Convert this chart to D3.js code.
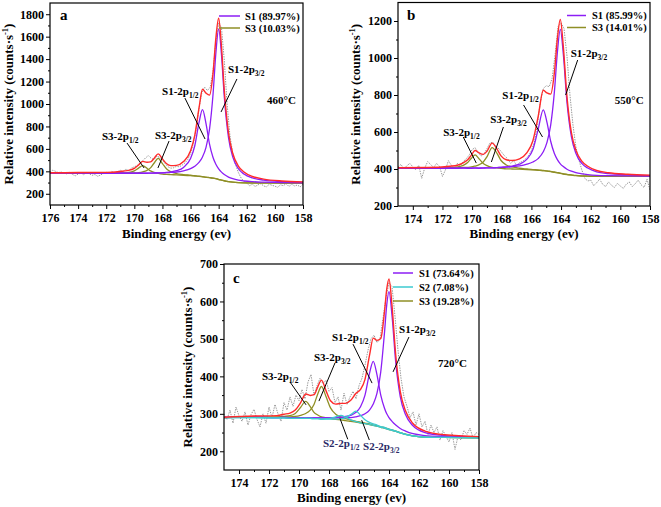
<!DOCTYPE html>
<html>
<head>
<meta charset="utf-8">
<script src="https://cdn.jsdelivr.net/npm/d3@7"></script>
<style>
html,body{margin:0;padding:0;background:#fff;}
svg{display:block;}
text{font-family:"Liberation Serif","Times New Roman",Times,serif;font-weight:bold;fill:#000;}
</style>
</head>
<body>
<svg id="chart" width="661" height="507"></svg>
<script>
// ================= DATA =================
// tick labels
const xTicksA = [176,174,172,170,168,166,164,162,160,158];
const xTicksBC = [174,172,170,168,166,164,162,160,158];
const yTicksA = [200,400,600,800,1000,1200,1400,1600,1800];
const yTicksB = [200,400,600,800,1000,1200];
const yTicksC = [200,300,400,500,600,700];

// legends
const legendA = ["S1 (89.97%)","S3 (10.03%)"];
const legendB = ["S1 (85.99%)","S3 (14.01%)"];
const legendC = ["S1 (73.64%)","S2 (7.08%)","S3 (19.28%)"];
const tempA = "460°C", tempB = "550°C", tempC = "720°C";

// ---- panel a (460 °C) : fitted components, heights above background ----
const gridA = [176,174,172,171,170.5,170,169.7,169.4,169.1,168.85,168.6,168.3,168.0,167.7,167.4,167.0,166.5,166.0,165.7,165.4,165.15,164.9,164.65,164.4,164.2,164.0,163.8,163.6,163.3,163.0,162.6,162.2,161.6,160.8,159.5,158];
const bgA    = [383,382,380,379,378,377,376,375,374,373,372,371,369,368,367,365,363,360,357,354,350,346,342,338,333,327,321,315,308,303,299,297,296,296,295,295];
const s1p32A = [2,3,4,6,6,7,8,9,10,11,13,15,17,20,23,29,42,64,88,125,178,268,434,749,1119,1340,1119,749,392,226,125,79,45,26,13,7];
const s1p12A = [1,2,3,4,5,6,7,8,9,11,12,15,18,22,28,41,72,154,271,480,600,480,300,185,130,95,72,57,41,31,22,17,12,8,5,3];
const s3p32A = [1,1,2,4,6,9,13,21,35,58,100,144,100,52,29,15,8,5,4,3,3,2,2,2,2,2,1,1,1,1,1,1,1,1,1,1];
const s3p12A = [0,1,2,6,11,27,53,76,53,31,18,11,7,5,4,3,2,1,1,1,1,1,1,1,1,0,0,0,0,0,0,0,0,0,0,0];
// raw counts, 176 -> 158 eV every 0.2 eV
const rawA = [395,410,400,388,395,382,378,392,372,360,375,385,370,390,378,365,372,355,368,380,392,378,400,386,395,410,
  398,420,405,430,440,452,470,495,520,540,515,505,535,525,500,468,440,428,432,445,440,455,475,505,560,
  650,780,960,1100,1150,1120,1150,1290,1560,1720,1680,1390,1000,720,560,460,390,340,310,295,272,285,265,280,290,
  270,262,285,275,268,258,280,272,290,265,285,270,278,262,285];

// ---- panel b (550 °C) ----
const gridB = [175,173,171.5,171,170.6,170.3,170.05,169.8,169.55,169.25,169.0,168.65,168.35,168.05,167.7,167.3,166.8,166.3,165.9,165.55,165.2,164.95,164.7,164.45,164.25,164.05,163.85,163.6,163.3,163.0,162.6,162.2,161.6,160.8,159.5,158];
const bgB    = [403,403,402,402,402,401,401,401,400,400,400,399,399,399,398,398,397,396,394,392,390,388,385,382,379,376,373,370,367,364,362,361,360,360,360,360];
const s1p32B = [1,2,3,3,4,4,4,5,5,6,6,7,8,10,12,15,20,30,44,64,103,156,252,435,650,779,650,390,206,121,68,44,25,15,8,4];
const s1p12B = [1,1,2,2,3,3,3,4,4,5,6,7,8,10,13,18,29,57,111,221,330,264,165,102,72,52,40,29,21,16,12,9,6,4,3,2];
const s3p32B = [1,1,3,4,6,8,10,15,22,38,66,117,90,47,24,13,7,4,3,3,2,2,2,2,2,2,1,1,1,1,1,1,1,1,1,1];
const s3p12B = [1,1,5,9,18,34,57,75,57,30,18,10,7,5,3,2,2,1,1,1,1,1,1,0,0,0,0,0,0,0,0,0,0,0,0,0];
// raw counts, 175 -> 158 eV every 0.2 eV
const rawB = [410,425,400,418,430,412,395,420,350,405,440,425,408,430,415,360,395,445,420,405,430,
  418,440,455,475,505,515,490,470,480,510,540,545,520,510,490,470,455,430,445,420,435,440,455,470,500,
  545,640,760,835,850,845,890,1020,1170,1190,1160,1010,800,640,520,450,395,350,335,340,310,325,345,318,305,
  330,312,300,322,308,295,318,330,305,320,340,315,300,345,285];

// ---- panel c (720 °C) ----
const gridC = [175,173,171.5,171,170.6,170.25,169.9,169.55,169.25,169.0,168.75,168.5,168.2,167.9,167.55,167.2,166.9,166.55,166.2,165.9,165.6,165.3,165.05,164.8,164.55,164.3,164.15,164.0,163.8,163.55,163.25,162.9,162.4,161.6,160.3,158];
const bgC    = [290,290,289,289,288,288,288,287,287,286,286,285,285,284,283,282,281,279,277,275,273,271,269,267,264,262,260,258,256,253,249,245,241,238,237,236];
const s1p32C = [1,1,1,2,2,2,2,2,3,3,3,4,4,5,6,7,9,11,15,20,27,39,57,88,148,255,331,368,307,184,97,53,27,12,5,2];
const s1p12C = [0,1,1,1,1,2,2,2,2,3,3,4,4,5,7,9,12,17,27,44,77,137,171,137,86,53,40,32,24,17,12,9,6,4,2,1];
const s2p32C = [0,0,0,0,0,0,0,1,1,1,1,1,1,2,3,5,9,19,30,21,11,6,4,3,2,2,1,1,1,1,1,0,0,0,0,0];
const s2p12C = [0,0,0,0,0,0,0,1,1,1,1,1,2,4,9,14,10,5,2,1,1,1,0,0,0,0,0,0,0,0,0,0,0,0,0,0];
const s3p32C = [0,1,2,3,4,5,8,14,23,39,67,88,61,32,16,9,6,4,3,3,2,2,1,1,1,1,1,1,1,1,1,1,0,0,0,0];
const s3p12C = [0,1,2,4,7,13,29,46,32,18,11,7,5,3,2,2,1,1,1,1,1,0,0,0,0,0,0,0,0,0,0,0,0,0,0,0];
// raw counts, 175 -> 158 eV every 0.2 eV
const rawC = [300,285,310,275,318,295,280,305,270,298,312,285,265,300,275,318,290,325,300,280,330,
  310,345,320,350,335,365,340,385,405,350,375,395,380,390,360,370,330,345,310,355,325,345,360,340,375,
  395,430,470,500,510,490,500,555,610,650,640,560,470,395,345,320,290,305,270,300,265,280,245,270,250,
  265,230,255,240,225,250,205,240,230,255,245,262,235,250,245];

// ================= DRAWING =================
const COL = {S1:"#8c1ef5", S2:"#3ccad0", S3:"#8f8f26", env:"#ff2b2b", raw:"#8a8a8a"};
const svg = d3.select("#chart");
const defs = svg.append("defs");

const panels = [
  { id:"a", left:50, right:303, top:3, bottom:205, xDomain:[176,158], yDomain:[100,1900],
    xTicks:xTicksA, xMinor:d3.range(175,158,-2), yTicks:yTicksA, yMinor:d3.range(300,1900,200),
    grid:gridA, bg:bgA,
    comps:[{k:"S3",v:s3p12A},{k:"S3",v:s3p32A},{k:"S1",v:s1p12A},{k:"S1",v:s1p32A}],
    raw:rawA, rawStart:176, rawStep:0.2,
    legend:legendA, legendKeys:["S1","S3"], legDy:12, legTop:13, legX:[-84,-63,-58],
    letter:"a", letterPos:[10,17], temp:tempA, tempPos:[160.56,1000],
    yTitleX:12.5, xTitleY:238,
    ann:[
      {m:"S1-2p",s:"3/2",t:[163.34,1275],l:[162.70,1223,163.83,929]},
      {m:"S1-2p",s:"1/2",t:[168.03,1080],l:[166.40,1053,164.97,688]},
      {m:"S3-2p",s:"1/2",t:[172.30,680],l:[170.52,652,169.31,430]},
      {m:"S3-2p",s:"3/2",t:[168.53,690],l:[167.53,670,168.32,430]}
    ]},
  { id:"b", left:398, right:650, top:2.5, bottom:206, xDomain:[175,158], yDomain:[200,1300],
    xTicks:xTicksBC, xMinor:d3.range(173,158,-2), yTicks:yTicksB, yMinor:d3.range(300,1300,200),
    grid:gridB, bg:bgB,
    comps:[{k:"S3",v:s3p12B},{k:"S3",v:s3p32B},{k:"S1",v:s1p12B},{k:"S1",v:s1p32B}],
    raw:rawB, rawStart:175, rawStep:0.2,
    legend:legendB, legendKeys:["S1","S3"], legDy:12, legTop:13, legX:[-83,-64,-58],
    letter:"b", letterPos:[9,17], temp:tempB, tempPos:[160.37,752],
    yTitleX:360, xTitleY:238,
    ann:[
      {m:"S1-2p",s:"3/2",t:[163.35,1005],l:[162.88,989,163.69,800]},
      {m:"S1-2p",s:"1/2",t:[167.96,778],l:[166.53,746,165.25,573]},
      {m:"S3-2p",s:"1/2",t:[171.95,578],l:[170.60,573,169.72,432]},
      {m:"S3-2p",s:"3/2",t:[168.77,649],l:[167.89,627,168.70,438]}
    ]},
  { id:"c", left:224, right:479, top:264, bottom:470, xDomain:[175,158], yDomain:[150,700],
    xTicks:xTicksBC, xMinor:d3.range(173,158,-2), yTicks:yTicksC, yMinor:d3.range(250,700,100),
    grid:gridC, bg:bgC,
    comps:[{k:"S3",v:s3p12C},{k:"S3",v:s3p32C},{k:"S1",v:s1p12C},{k:"S1",v:s1p32C},{k:"S2",v:s2p12C},{k:"S2",v:s2p32C}],
    raw:rawC, rawStart:175, rawStep:0.2,
    legend:legendC, legendKeys:["S1","S2","S3"], legDy:14, legTop:9, legX:[-86,-66,-60],
    letter:"c", letterPos:[9,19], temp:tempC, tempPos:[160.73,425],
    yTitleX:191.5, xTitleY:502,
    ann:[
      {m:"S1-2p",s:"3/2",t:[163.33,516],l:[162.67,505,163.73,412]},
      {m:"S1-2p",s:"1/2",t:[167.80,494],l:[166.40,486,165.13,382]},
      {m:"S3-2p",s:"3/2",t:[169.00,441],l:[167.60,436,168.67,334]},
      {m:"S3-2p",s:"1/2",t:[172.47,390],l:[170.60,385,169.53,324]},
      {m:"S2-2p",s:"1/2",t:[168.40,211],l:[167.27,288,166.75,232],c:"#2a2a66"},
      {m:"S2-2p",s:"3/2",t:[165.73,203],l:[165.82,283,165.31,230],c:"#2a2a66"}
    ]}
];

function styleAxis(sel){
  sel.select(".domain").remove();
  sel.attr("font-family",'"Liberation Serif","Times New Roman",serif').attr("font-size",12).attr("font-weight","bold");
  sel.selectAll(".tick line").attr("stroke","#000").attr("stroke-width",1);
  sel.selectAll(".tick text").attr("fill","#000");
}

panels.forEach(p=>{
  const x = d3.scaleLinear().domain(p.xDomain).range([p.left,p.right]);
  const y = d3.scaleLinear().domain(p.yDomain).range([p.bottom,p.top]);
  const g = svg.append("g");
  defs.append("clipPath").attr("id","clip-"+p.id).append("rect")
    .attr("x",p.left).attr("y",p.top).attr("width",p.right-p.left).attr("height",p.bottom-p.top);
  const plot = g.append("g").attr("clip-path",`url(#clip-${p.id})`);

  const smooth = d3.line().x(d=>x(d[0])).y(d=>y(d[1])).curve(d3.curveMonotoneX);
  const straight = d3.line().x(d=>x(d[0])).y(d=>y(d[1]));

  // raw data (dotted)
  const rawPts = p.raw.map((v,i)=>[p.rawStart - p.rawStep*i, v]);
  plot.append("path").attr("d",straight(rawPts)).attr("fill","none")
    .attr("stroke",COL.raw).attr("stroke-width",0.9).attr("stroke-dasharray","1.4,1.1");

  // fitted components (drawn on the background)
  p.comps.forEach(c=>{
    const pts = p.grid.map((e,i)=>[e, p.bg[i]+c.v[i]]);
    plot.append("path").attr("d",smooth(pts)).attr("fill","none")
      .attr("stroke",COL[c.k]).attr("stroke-width",1.3);
  });
  // envelope = background + all components
  const env = p.grid.map((e,i)=>[e, p.bg[i]+d3.sum(p.comps,c=>c.v[i])]);
  plot.append("path").attr("d",smooth(env)).attr("fill","none")
    .attr("stroke",COL.env).attr("stroke-width",1.4);

  // frame
  g.append("rect").attr("x",p.left).attr("y",p.top).attr("width",p.right-p.left).attr("height",p.bottom-p.top)
    .attr("fill","none").attr("stroke","#000").attr("stroke-width",1.2);

  // axes
  const xa = g.append("g").attr("transform",`translate(0,${p.bottom})`)
    .call(d3.axisBottom(x).tickValues(p.xTicks).tickSize(4).tickPadding(4).tickFormat(d3.format("d")));
  styleAxis(xa);
  const xm = g.append("g").attr("transform",`translate(0,${p.bottom})`)
    .call(d3.axisBottom(x).tickValues(p.xMinor).tickSize(2).tickFormat(""));
  styleAxis(xm);
  const ya = g.append("g").attr("transform",`translate(${p.left},0)`)
    .call(d3.axisLeft(y).tickValues(p.yTicks).tickSize(4).tickPadding(2).tickFormat(d3.format("d")));
  styleAxis(ya);
  const ym = g.append("g").attr("transform",`translate(${p.left},0)`)
    .call(d3.axisLeft(y).tickValues(p.yMinor).tickSize(2).tickFormat(""));
  styleAxis(ym);

  // axis titles
  g.append("text").attr("x",(p.left+p.right)/2).attr("y",p.xTitleY).attr("text-anchor","middle")
    .attr("font-size",13).text("Binding energy (ev)");
  const yt = g.append("text").attr("transform",`translate(${p.yTitleX},${(p.top+p.bottom)/2}) rotate(-90)`)
    .attr("text-anchor","middle").attr("font-size",13);
  yt.append("tspan").text("Relative intensity (counts·s");
  yt.append("tspan").attr("font-size",8.5).attr("dy",-5).text("-1");
  yt.append("tspan").attr("dy",5).text(")");

  // panel letter
  g.append("text").attr("x",p.left+p.letterPos[0]).attr("y",p.top+p.letterPos[1])
    .attr("font-size",15).text(p.letter);

  // temperature
  g.append("text").attr("x",x(p.tempPos[0])).attr("y",y(p.tempPos[1])).attr("font-size",11).text(p.temp);

  // legend
  p.legend.forEach((lab,i)=>{
    const ly = p.top + p.legTop + i*p.legDy;
    g.append("line").attr("x1",p.right+p.legX[0]).attr("x2",p.right+p.legX[1]).attr("y1",ly).attr("y2",ly)
      .attr("stroke",COL[p.legendKeys[i]]).attr("stroke-width",1.5);
    g.append("text").attr("x",p.right+p.legX[2]).attr("y",ly+3.8).attr("font-size",10.5).text(lab);
  });

  // peak annotations
  p.ann.forEach(a=>{
    g.append("line").attr("x1",x(a.l[0])).attr("y1",y(a.l[1])).attr("x2",x(a.l[2])).attr("y2",y(a.l[3]))
      .attr("stroke","#000").attr("stroke-width",1);
    const t = g.append("text").attr("x",x(a.t[0])).attr("y",y(a.t[1])).attr("font-size",11);
    if (a.c) t.style("fill",a.c);
    t.append("tspan").text(a.m);
    t.append("tspan").attr("font-size",7.5).attr("dy",3).text(a.s);
  });
});
</script>
</body>
</html>
